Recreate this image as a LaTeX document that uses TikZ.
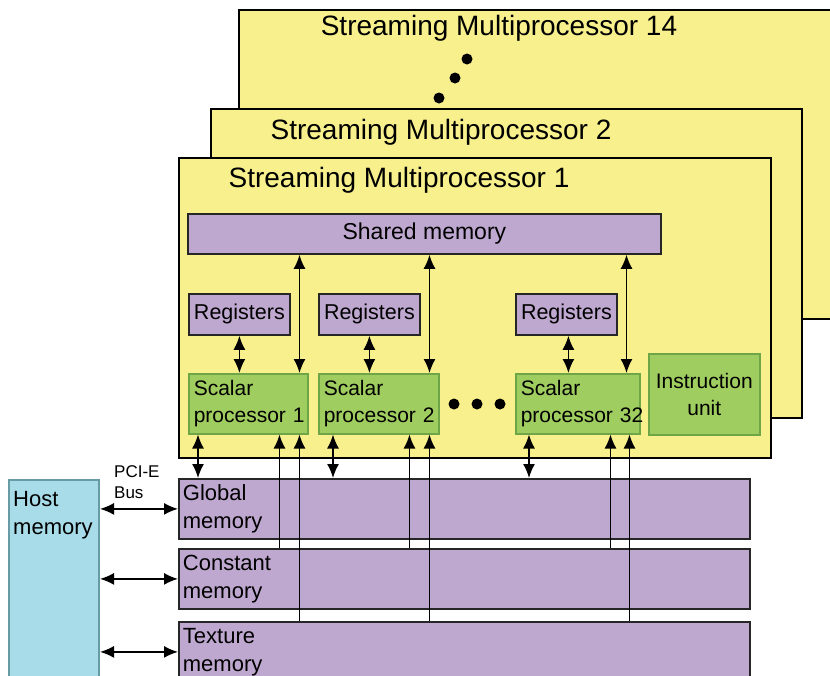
\documentclass[tikz,border=0pt]{standalone}
\usepackage{fontspec}
\setmainfont{Liberation Sans}
\usetikzlibrary{positioning,arrows.meta,calc}
\definecolor{smyellow}{RGB}{247,240,140}
\definecolor{mempurple}{RGB}{191,168,208}
\definecolor{procgreen}{RGB}{160,205,95}
\definecolor{procedge}{RGB}{110,165,70}
\definecolor{hostblue}{RGB}{168,220,232}
\definecolor{hostedge}{RGB}{105,155,165}
\tikzset{smbox/.style={rectangle, draw=black, line width=2pt,
    fill=smyellow, anchor=north west, inner sep=0pt},
  smtitle/.style={inner sep=0pt, font=\fontsize{28}{32}\selectfont},
  membox/.style={rectangle, draw=black!85, line width=1.8pt,
    fill=mempurple, anchor=north west, inner sep=4pt, align=left,
    font=\fontsize{22}{28}\selectfont},
  regbox/.style={membox, inner sep=0pt, align=center,
    font=\fontsize{21.5}{26}\selectfont},
  procbox/.style={rectangle, draw=procedge, line width=1.5pt,
    fill=procgreen, anchor=north west, inner sep=5pt, align=left,
    font=\fontsize{21}{27}\selectfont},
  smalldot/.style={circle, fill=black, inner sep=0pt, minimum size=11pt},
  dblarrow/.style={line width=1.6pt, {Latex[length=14pt,width=12pt]}-{Latex[length=14pt,width=12pt]}},
  uparrow/.style={line width=1.6pt, -{Latex[length=14pt,width=12pt]}}
}
\begin{document}
\begin{tikzpicture}[x=1pt,y=-1pt]
   \clip (0,0) rectangle (830,675);

   %Streaming multiprocessors, back to front
   \node (sm14) [smbox, minimum width=700pt, minimum height=309pt] at (238,9) {};
   \node (sm14t) [smtitle] at ([xshift=261pt,yshift=-19pt]sm14.north west)
   {Streaming Multiprocessor 14};
   \node (dotA) [smalldot] at (467,59) {};
   \node (dotB) [smalldot] at (455,78) {};
   \node (dotC) [smalldot] at (439,98) {};

   \node (sm2) [smbox, minimum width=591pt, minimum height=309pt] at (210,108) {};
   \node (sm2t) [smtitle] at ([xshift=231pt,yshift=-24pt]sm2.north west)
   {Streaming Multiprocessor 2};

   \node (sm1) [smbox, minimum width=592pt, minimum height=300pt] at (178,157) {};
   \node (sm1t) [smtitle] at ([xshift=221pt,yshift=-23pt]sm1.north west)
   {Streaming Multiprocessor 1};

   %Shared memory node
   \node (shm) [regbox, font=\fontsize{23}{28}\selectfont,
   minimum width=473pt, minimum height=40pt] at (187,213) {Shared memory};

   %Registers nodes
   \node (reg1) [regbox, minimum width=101pt, minimum height=41pt] at (188,293) {Registers};
   \node (reg2) [regbox, minimum width=101pt, minimum height=41pt] at (318,293) {Registers};
   \node (reg3) [regbox, minimum width=101pt, minimum height=41pt] at (515,293) {Registers};

   %Scalar processor nodes
   \node (sp1) [procbox, text width=109pt, minimum height=60pt] at (188,373)
   {Scalar\\processor~1};
   \node (sp2) [procbox, text width=110pt, minimum height=60pt] at (318,373)
   {Scalar\\processor~2};
   \node (sp32) [procbox, text width=114pt, minimum height=60pt] at (515,373)
   {Scalar\\processor~32};
   \node (dotD) [smalldot] at (454,404) {};
   \node (dotE) [smalldot] at (477,404) {};
   \node (dotF) [smalldot] at (500,404) {};

   %Instruction unit node
   \node (iu) [procbox, align=center, text width=101pt, minimum height=81pt] at (648,353)
   {Instruction\\unit};

   %Device memories
   \node (glob) [membox, text width=563pt, minimum height=60pt] at (178,478)
   {Global\\memory};
   \node (cons) [membox, text width=563pt, minimum height=60pt] at (178,548)
   {Constant\\memory};
   \node (tex) [membox, text width=563pt, minimum height=60pt] at (178,621)
   {Texture\\memory};

   %Host memory node and its label
   \node (host) [rectangle, draw=hostedge, line width=2pt, fill=hostblue,
   anchor=north west, minimum width=90pt, minimum height=230pt] at (8,479) {};
   \node (hostt) [anchor=north west, inner sep=0pt, align=left,
   font=\fontsize{22}{28}\selectfont] at ([xshift=5pt,yshift=-12pt]host.north west)
   {Host\\memory};
   \node (bus) [anchor=north west, inner sep=0pt, align=left,
   font=\fontsize{17}{21}\selectfont] at ([xshift=14pt,yshift=14pt]host.north east)
   {PCI-E\\Bus};

   %Host to device
   \draw[dblarrow] (glob.west -| host.east) -- (glob.west);
   \draw[dblarrow] (cons.west -| host.east) -- (cons.west);
   \draw[dblarrow] (tex.west -| host.east) -- (tex.west);

   %Registers to scalar processors
   \draw[dblarrow] (reg1.south) -- (reg1.south |- sp1.north);
   \draw[dblarrow] (reg2.south) -- (reg2.south |- sp2.north);
   \draw[dblarrow] ([xshift=2pt]reg3.south) -- ([xshift=2pt]reg3.south |- sp32.north);

   %Shared memory to scalar processors
   \draw[dblarrow] ([xshift=-9pt]sp1.north east) -- ([xshift=-9pt]sp1.north east |- shm.south);
   \draw[dblarrow] ([xshift=-10pt]sp2.north east) -- ([xshift=-10pt]sp2.north east |- shm.south);
   \draw[dblarrow] ([xshift=-14pt]sp32.north east) -- ([xshift=-14pt]sp32.north east |- shm.south);

   %Scalar processors to global memory
   \draw[dblarrow] ([xshift=10pt]sp1.south west) -- ([xshift=10pt]sp1.south west |- glob.north);
   \draw[dblarrow] ([xshift=15pt]sp2.south west) -- ([xshift=15pt]sp2.south west |- glob.north);
   \draw[dblarrow] ([xshift=14pt]sp32.south west) -- ([xshift=14pt]sp32.south west |- glob.north);

   %Constant and texture memory up to scalar processors
   \draw[uparrow] ([xshift=-29pt]sp1.south east |- cons.north) -- ([xshift=-29pt]sp1.south east);
   \draw[uparrow] ([xshift=-9pt]sp1.south east |- tex.north) -- ([xshift=-9pt]sp1.south east);
   \draw[uparrow] ([xshift=-30pt]sp2.south east |- cons.north) -- ([xshift=-30pt]sp2.south east);
   \draw[uparrow] ([xshift=-10pt]sp2.south east |- tex.north) -- ([xshift=-10pt]sp2.south east);
   \draw[uparrow] ([xshift=-30pt]sp32.south east |- cons.north) -- ([xshift=-30pt]sp32.south east);
   \draw[uparrow] ([xshift=-11pt]sp32.south east |- tex.north) -- ([xshift=-11pt]sp32.south east);

\end{tikzpicture}
\end{document}
